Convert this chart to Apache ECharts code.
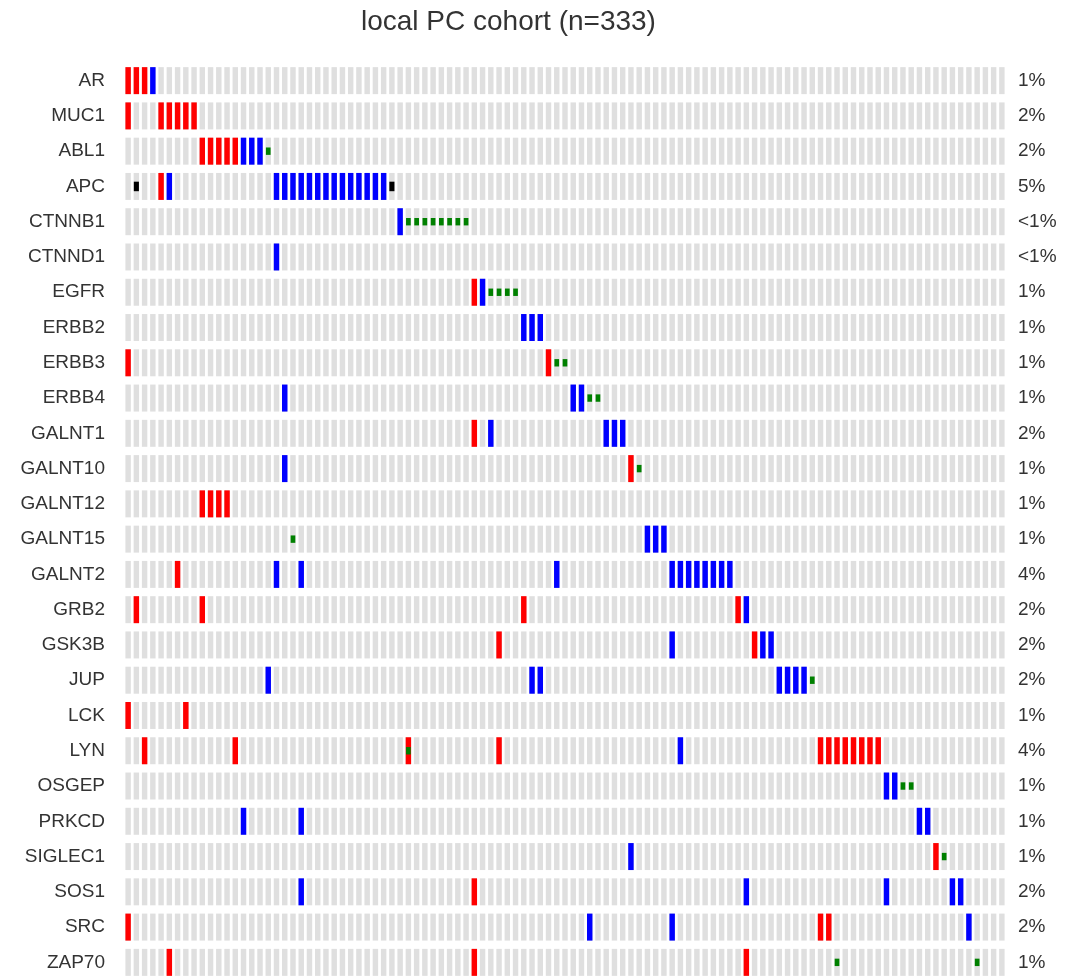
<!DOCTYPE html>
<html>
<head>
<meta charset="utf-8">
<script src="https://cdn.jsdelivr.net/npm/echarts@6/dist/echarts.min.js"></script>
<style>
  html, body { margin: 0; padding: 0; background: #fff; }
  #chart { width: 1065px; height: 980px; }
</style>
</head>
<body>
<div id="chart"></div>
<script>
// genes shown top to bottom, with the altered-frequency label on the right
const genes = ["AR", "MUC1", "ABL1", "APC", "CTNNB1", "CTNND1", "EGFR", "ERBB2", "ERBB3", "ERBB4",
  "GALNT1", "GALNT10", "GALNT12", "GALNT15", "GALNT2", "GRB2", "GSK3B", "JUP", "LCK", "LYN",
  "OSGEP", "PRKCD", "SIGLEC1", "SOS1", "SRC", "ZAP70"];
const pctLabels = ["1%", "2%", "2%", "5%", "<1%", "<1%", "1%", "1%", "1%", "1%",
  "2%", "1%", "1%", "1%", "4%", "2%", "2%", "2%", "1%", "4%",
  "1%", "1%", "1%", "2%", "2%", "1%"];

// altered samples (columns)
const sampleCount = 107;
const samples = Array.from({ length: sampleCount }, (_, i) => "S" + (i + 1));

// sample columns per gene, by alteration type
const amplification = {
  AR: [0, 1, 2], MUC1: [0, 4, 5, 6, 7, 8], ABL1: [9, 10, 11, 12, 13], APC: [4],
  EGFR: [42], ERBB3: [0, 51], GALNT1: [42], GALNT10: [61], GALNT12: [9, 10, 11, 12],
  GALNT2: [6], GRB2: [1, 9, 48, 74], GSK3B: [45, 76], LCK: [0, 7],
  LYN: [2, 13, 34, 45, 84, 85, 86, 87, 88, 89, 90, 91], SIGLEC1: [98], SOS1: [42],
  SRC: [0, 84, 85], ZAP70: [5, 42, 75]
};
const deepDeletion = {
  AR: [3], ABL1: [14, 15, 16],
  APC: [5, 18, 19, 20, 21, 22, 23, 24, 25, 26, 27, 28, 29, 30, 31],
  CTNNB1: [33], CTNND1: [18], EGFR: [43], ERBB2: [48, 49, 50], ERBB4: [19, 54, 55],
  GALNT1: [44, 58, 59, 60], GALNT10: [19], GALNT15: [63, 64, 65],
  GALNT2: [18, 21, 52, 66, 67, 68, 69, 70, 71, 72, 73], GRB2: [75], GSK3B: [66, 77, 78],
  JUP: [17, 49, 50, 79, 80, 81, 82], LYN: [67], OSGEP: [92, 93], PRKCD: [14, 21, 96, 97],
  SIGLEC1: [61], SOS1: [21, 75, 92, 100, 101], SRC: [56, 66, 102]
};
const missense = {
  ABL1: [17], CTNNB1: [34, 35, 36, 37, 38, 39, 40, 41], EGFR: [44, 45, 46, 47],
  ERBB3: [52, 53], ERBB4: [56, 57], GALNT10: [62], GALNT15: [20], JUP: [83], LYN: [34],
  OSGEP: [94, 95], SIGLEC1: [99], ZAP70: [86, 103]
};
const truncating = {
  APC: [1, 32]
};

function toCells(byGene) {
  const out = [];
  Object.keys(byGene).forEach(g => {
    byGene[g].forEach(c => out.push([c, genes.indexOf(g)]));
  });
  return out;
}

const background = [];
genes.forEach((g, gi) => samples.forEach((s, si) => background.push([si, gi])));

function cell(wFrac, hFrac) {
  return function (params, api) {
    const c = api.coord([api.value(0), api.value(1)]);
    const size = api.size([1, 1]);
    const w = size[0] * wFrac;
    const h = size[1] * hFrac;
    return {
      type: "rect",
      shape: { x: c[0] - w / 2, y: c[1] - h / 2, width: w, height: h },
      style: { fill: api.visual("color") }
    };
  };
}

const font = "'Liberation Sans', Arial, Helvetica, sans-serif";
const chart = echarts.init(document.getElementById("chart"));

chart.setOption({
  animation: false,
  title: {
    text: "local PC cohort (n=333)",
    left: 361,
    top: 8,
    padding: 0,
    textStyle: { fontFamily: font, fontSize: 28, fontWeight: "normal", color: "#333" }
  },
  grid: { left: 124, top: 63, width: 882, height: 919 },
  xAxis: {
    type: "category",
    data: samples,
    show: false
  },
  yAxis: [
    {
      type: "category",
      data: genes,
      inverse: true,
      axisLine: { show: false },
      axisTick: { show: false },
      axisLabel: { margin: 19, fontFamily: font, fontSize: 19, color: "#333" }
    },
    {
      type: "category",
      data: pctLabels,
      inverse: true,
      position: "right",
      axisLine: { show: false },
      axisTick: { show: false },
      axisLabel: { margin: 12, fontFamily: font, fontSize: 19, color: "#333" }
    }
  ],
  series: [
    { type: "custom", name: "none", data: background, color: "#dfdfdf", renderItem: cell(0.66, 0.765) },
    { type: "custom", name: "Amplification", data: toCells(amplification), color: "#ff0000", renderItem: cell(0.66, 0.765) },
    { type: "custom", name: "Deep deletion", data: toCells(deepDeletion), color: "#0000ff", renderItem: cell(0.66, 0.765) },
    { type: "custom", name: "Missense", data: toCells(missense), color: "#008000", renderItem: cell(0.57, 0.21) },
    { type: "custom", name: "Truncating", data: toCells(truncating), color: "#000000", renderItem: cell(0.62, 0.27) }
  ]
});
</script>
</body>
</html>
